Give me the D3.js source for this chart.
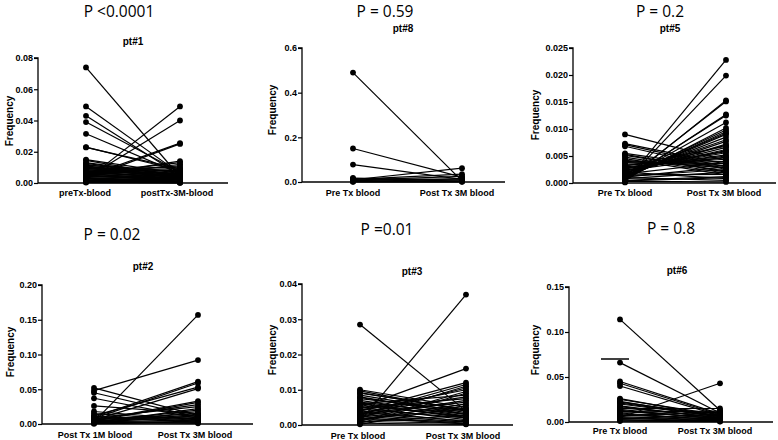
<!DOCTYPE html>
<html><head><meta charset="utf-8">
<script src="https://cdn.jsdelivr.net/npm/d3@7/dist/d3.min.js"></script>
<style>body{margin:0;background:#fff}svg{display:block}</style>
</head><body>
<svg id="c" width="778" height="440"></svg>
<script>
// ---- data ----
const pTitles = ["P <0.0001", "P = 0.59", "P = 0.2", "P = 0.02", "P =0.01", "P = 0.8"];
const ptLabels = ["pt#1", "pt#8", "pt#5", "pt#2", "pt#3", "pt#6"];
const catLabels = [
  ["preTx-blood", "postTx-3M-blood"],
  ["Pre Tx blood", "Post Tx 3M blood"],
  ["Pre Tx blood", "Post Tx 3M blood"],
  ["Post Tx 1M blood", "Post Tx 3M blood"],
  ["Pre Tx blood", "Post Tx 3M blood"],
  ["Pre Tx blood", "Post Tx 3M blood"]
];
const yTicks = [
  [0, 0.02, 0.04, 0.06, 0.08],
  [0, 0.2, 0.4, 0.6],
  [0, 0.005, 0.010, 0.015, 0.020, 0.025],
  [0, 0.05, 0.10, 0.15, 0.20],
  [0, 0.01, 0.02, 0.03, 0.04],
  [0, 0.05, 0.10, 0.15]
];
const tickFormats = [".2f", ".1f", ".3f", ".2f", ".2f", ".2f"];

const pre1 = [0.074,0.049,0.043,0.039,0.0315,0.023,0.0228,0.002,0.003,0.004,0.003,0.015,0.0145,0.013,0.012,0.0115,0.011,0.0105,0.010,0.0095,0.009,0.0085,0.008,0.0075,0.007,0.0065,0.006,0.0055,0.005,0.0045,0.004,0.0035,0.003,0.0025,0.002,0.0015,0.001,0.0008,0.0005,0.0003,0.005,0.006,0.004,0.007,
  0.0125,0.0102,0.0088,0.0078,0.0068,0.0058,0.0048,0.0038,0.0028,0.0018,0.0012,0.0006];
const post1 = [0.004,0.006,0.005,0.007,0.006,0.008,0.009,0.049,0.040,0.0255,0.025,0.006,0.004,0.005,0.003,0.007,0.004,0.006,0.005,0.003,0.008,0.004,0.002,0.005,0.003,0.004,0.002,0.003,0.001,0.002,0.003,0.001,0.002,0.001,0.0005,0.001,0.0003,0.0005,0.0002,0.0001,0.014,0.013,0.012,0.011,
  0.0045,0.0035,0.0102,0.0092,0.0082,0.0072,0.0062,0.0052,0.0042,0.0032,0.0022,0.0012];

const pre8 = [0.49,0.15,0.078,0.018,0.015,0.012,0.010,0.008,0.006,0.004,0.003,0.002,0.001];
const post8 = [0.005,0.022,0.012,0.008,0.004,0.035,0.062,0.025,0.015,0.010,0.003,0.002,0.001];

const pre5 = [0.009,0.0073,0.0071,0.0068,0.0055,0.0053,0.0051,0.0048,0.0045,
  0.0001,0.0002,0.0003,0.0005,0.0004,0.0006,0.0008,0.0007,0.001,0.0009,0.0012,0.0011,0.0013,0.0015,0.0014,0.0016,0.0018,0.0019,0.002,0.0022,0.0024,0.0026,0.0028,0.003,0.0033,0.0035,0.0038,0.004,0.0042,0.0012,0.0008,0.0015,0.0005,0.002,0.001,0.0003,
  0.0031,0.0027,0.0023,0.0017,0.0011,0.0004];
const post5 = [0.0042,0.0035,0.003,0.0025,0.0028,0.002,0.0022,0.0018,0.0015,
  0.0228,0.0199,0.0153,0.0151,0.0127,0.0125,0.0112,0.0102,0.0098,0.0095,0.0092,0.009,0.0085,0.008,0.0077,0.0072,0.007,0.0066,0.0062,0.006,0.0056,0.0052,0.005,0.0047,0.0044,0.004,0.0036,0.0032,0.0028,0.0025,0.002,0.0016,0.0012,0.0008,0.0005,0.0002,
  0.0068,0.0058,0.0048,0.0038,0.0030,0.0010];

const pre2 = [0.003,0.048,0.052,0.045,0.037,0.026,0.010,0.008,0.012,0.006,0.018,0.015,0.005,0.004,0.007,0.009,0.002,0.003,0.001,0.006,0.004,0.002,0.011,0.008,0.005,0.003,0.001,0.0005,0.002,0.004];
const post2 = [0.157,0.092,0.012,0.010,0.008,0.015,0.061,0.059,0.053,0.051,0.006,0.005,0.033,0.031,0.028,0.025,0.022,0.020,0.018,0.015,0.013,0.012,0.004,0.010,0.008,0.006,0.004,0.002,0.003,0.001];

const pre3 = [0.0285,0.001,0.005,0.004,0.003,0.010,0.0097,0.009,0.0085,0.008,0.0075,0.007,0.0065,0.006,0.0055,0.005,0.0045,0.004,0.0035,0.003,0.0025,0.002,0.0015,0.001,0.0005,0.002,0.003,0.004,0.001,0.0005,0.006,0.0035,0.0025,0.0015,0.0002,
  0.0092,0.0078,0.0062,0.0048,0.0032,0.0018,0.0008];
const post3 = [0.004,0.037,0.016,0.012,0.0115,0.005,0.004,0.0045,0.0035,0.003,0.004,0.0025,0.003,0.002,0.0025,0.0015,0.002,0.001,0.0012,0.0008,0.0005,0.0003,0.001,0.0005,0.0002,0.011,0.0105,0.010,0.0095,0.009,0.0085,0.008,0.007,0.006,0.0055,
  0.0042,0.0032,0.0022,0.0075,0.0065,0.0045,0.0028];

const pre6 = [0.114,0.066,0.045,0.043,0.040,0.005,0.026,0.025,0.023,0.022,0.020,0.018,0.016,0.014,0.012,0.010,0.008,0.006,0.004,0.002,0.001,0.015,0.011,0.007,0.003,
  0.021,0.017,0.013,0.009,0.005,0.0025];
const post6 = [0.013,0.010,0.009,0.008,0.007,0.043,0.006,0.008,0.005,0.007,0.006,0.004,0.005,0.003,0.004,0.002,0.003,0.002,0.001,0.001,0.0005,0.015,0.012,0.011,0.009,
  0.0065,0.0045,0.0035,0.0025,0.0015,0.0008];
const markLine6 = 0.07;

const preSeries = [pre1, pre8, pre5, pre2, pre3, pre6];
const postSeries = [post1, post8, post5, post2, post3, post6];

// ---- layout ----
const layout = [
  {ax:38, top:58, bot:183, xe:228, c:[86,180], lx:[85,177], lb:196, px:119, py:17, tx:133, ty:45, fx:9, fy:121},
  {ax:302, top:48, bot:182, xe:505, c:[353,462], lx:[353,457], lb:196, px:385, py:17, tx:403, ty:32, fx:272, fy:110},
  {ax:573, top:48, bot:183, xe:776, c:[625,726], lx:[625,724], lb:196, px:660, py:17, tx:670, ty:32, fx:535, fy:115},
  {ax:42, top:285, bot:424, xe:253, c:[94,198], lx:[95,195], lb:438, px:112, py:240, tx:143, ty:270, fx:10, fy:352},
  {ax:302, top:284, bot:425, xe:513, c:[360,466], lx:[358,463], lb:439, px:387, py:235, tx:412, ty:275, fx:272, fy:350},
  {ax:569, top:287, bot:422, xe:773, c:[620,720], lx:[620,715], lb:434, px:671, py:234, tx:677, ty:274, fx:535, fy:350}
];

const svg = d3.select("#c");
const bold = "'Liberation Sans', Arial, sans-serif";

layout.forEach((L, i) => {
  const g = svg.append("g");
  const ticks = yTicks[i];
  const y = d3.scaleLinear().domain([0, ticks[ticks.length-1]]).range([L.bot, L.top]);
  const x = d3.scalePoint().domain([0,1]).range(L.c);

  const ya = g.append("g").attr("transform", `translate(${L.ax},0)`)
    .call(d3.axisLeft(y).tickValues(ticks).tickFormat(d3.format(tickFormats[i])).tickSize(4).tickPadding(1));
  ya.select(".domain").attr("d", `M-4,${L.top}H0V${L.bot}`).attr("stroke","#000").attr("stroke-width",1.3);
  ya.selectAll(".tick line").attr("stroke","#000").attr("stroke-width",1.2);
  ya.selectAll("text").attr("font-family", bold).attr("font-weight","bold").attr("font-size", 9).attr("fill","#000");

  g.append("line").attr("x1", L.ax).attr("x2", L.xe).attr("y1", L.bot).attr("y2", L.bot)
    .attr("stroke","#000").attr("stroke-width",1.3);

  const pre = preSeries[i], post = postSeries[i];
  const pairs = pre.map((v, k) => [v, post[k]]);
  g.append("g").selectAll("line").data(pairs).join("line")
    .attr("x1", x(0)).attr("x2", x(1))
    .attr("y1", d => y(d[0])).attr("y2", d => y(d[1]))
    .attr("stroke","#000").attr("stroke-width",1.2);
  const pts = [];
  pairs.forEach(p => { pts.push([0,p[0]]); pts.push([1,p[1]]); });
  g.append("g").selectAll("circle").data(pts).join("circle")
    .attr("cx", d => x(d[0])).attr("cy", d => y(d[1])).attr("r", 2.9).attr("fill","#000");

  if (i === 5) {
    g.append("line").attr("x1", x(0)-19).attr("x2", x(0)+9)
      .attr("y1", y(markLine6)).attr("y2", y(markLine6)).attr("stroke","#000").attr("stroke-width",1.5);
  }

  catLabels[i].forEach((t, k) => {
    g.append("text").attr("x", L.lx[k]).attr("y", L.lb).attr("text-anchor","middle")
      .attr("font-family", bold).attr("font-weight","bold").attr("font-size", 9).text(t);
  });
  g.append("text").attr("transform", `translate(${L.fx + 4},${L.fy}) rotate(-90)`)
    .attr("text-anchor","middle").attr("font-family", bold).attr("font-weight","bold")
    .attr("font-size", 10).text("Frequency");
  g.append("text").attr("x", L.tx).attr("y", L.ty).attr("text-anchor","middle")
    .attr("font-family", bold).attr("font-weight","bold").attr("font-size", 10).text(ptLabels[i]);
  g.append("text").attr("x", L.px).attr("y", L.py).attr("text-anchor","middle")
    .attr("font-family", "'Open Sans', 'Noto Sans', sans-serif").attr("font-size", 15.5).text(pTitles[i]);
});
</script>
</body></html>
